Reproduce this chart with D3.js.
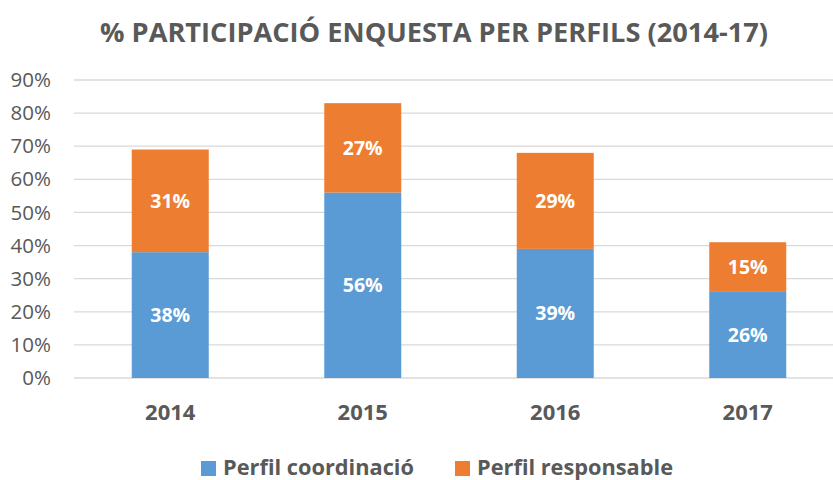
<!DOCTYPE html>
<html><head><meta charset="utf-8">
<script src="https://cdn.jsdelivr.net/npm/d3@7"></script>
<style>body{margin:0;background:#fff}svg{display:block}</style>
</head><body>
<svg id="c" width="833" height="480"></svg>
<script>
const categories = ["2014","2015","2016","2017"];
const coordinacio = [38,56,39,26];
const responsable = [31,27,29,15];
const seriesNames = ["Perfil coordinació","Perfil responsable"];
const yTicks = [0,10,20,30,40,50,60,70,80,90];
const title = "% PARTICIPACIÓ ENQUESTA PER PERFILS (2014-17)";

const colors = ["#5B9BD5","#ED7D31"];
const textCol = "#595959";
const font = "'Open Sans', sans-serif";
const svg = d3.select("#c");

const x = d3.scaleBand().domain(categories).range([74,844]).paddingInner(0.6).paddingOuter(0.3);
const y = d3.scaleLinear().domain([0,90]).range([378,80]);

const table = categories.map((c,i)=>({cat:c, a:coordinacio[i], b:responsable[i]}));
const stack = d3.stack().keys(["a","b"])(table);

// grid
svg.append("g").selectAll("line").data(yTicks).join("line")
  .attr("x1",74).attr("x2",844)
  .attr("y1",d=>y(d)).attr("y2",d=>y(d))
  .attr("stroke","#d9d9d9").attr("stroke-width",1.3);

// y axis labels
const yAxis = d3.axisLeft(y).tickValues(yTicks).tickFormat(d=>d+"%").tickSize(0).tickPadding(0);
const ya = svg.append("g").attr("transform","translate(51,0)").call(yAxis);
ya.select(".domain").remove();
ya.selectAll("text").attr("fill",textCol).style("font-family",font).style("font-size","20.5px");

// bars
stack.forEach((s,si)=>{
  const g = svg.append("g");
  g.selectAll("rect").data(s).join("rect")
    .attr("x",d=>x(d.data.cat)).attr("width",x.bandwidth())
    .attr("y",d=>y(d[1])).attr("height",d=>y(d[0])-y(d[1]))
    .attr("fill",colors[si]);
  g.selectAll("text").data(s).join("text")
    .attr("x",d=>x(d.data.cat)+x.bandwidth()/2)
    .attr("y",d=>(y(d[0])+y(d[1]))/2)
    .attr("dy","0.36em").attr("text-anchor","middle")
    .attr("fill","#fff").style("font-family",font).style("font-weight","bold").style("font-size","19.5px")
    .text(d=>(d[1]-d[0])+"%");
});

// x axis labels
const xAxis = d3.axisBottom(x).tickSize(0).tickPadding(0);
const xa = svg.append("g").attr("transform","translate(0,420)").call(xAxis);
xa.select(".domain").remove();
xa.selectAll("text").attr("dy",0).attr("y",0).attr("fill",textCol).style("font-family",font).style("font-weight","bold").style("font-size","22px");

// title
svg.append("text").attr("x",434).attr("y",42).attr("text-anchor","middle")
  .attr("fill",textCol).style("font-family",font).style("font-weight","bold").style("font-size","26px")
  .attr("textLength",668).attr("lengthAdjust","spacingAndGlyphs")
  .text(title);

// legend
const legX = [201,455];
const legW = [191,196];
const leg = svg.append("g");
seriesNames.forEach((n,i)=>{
  leg.append("rect").attr("x",legX[i]).attr("y",461).attr("width",15).attr("height",15).attr("fill",colors[i]);
  leg.append("text").attr("x",legX[i]+22).attr("y",474.5).attr("fill",textCol)
    .style("font-family",font).style("font-weight","bold").style("font-size","21px")
    .attr("textLength",legW[i]).attr("lengthAdjust","spacingAndGlyphs").text(n);
});
</script>
</body></html>
